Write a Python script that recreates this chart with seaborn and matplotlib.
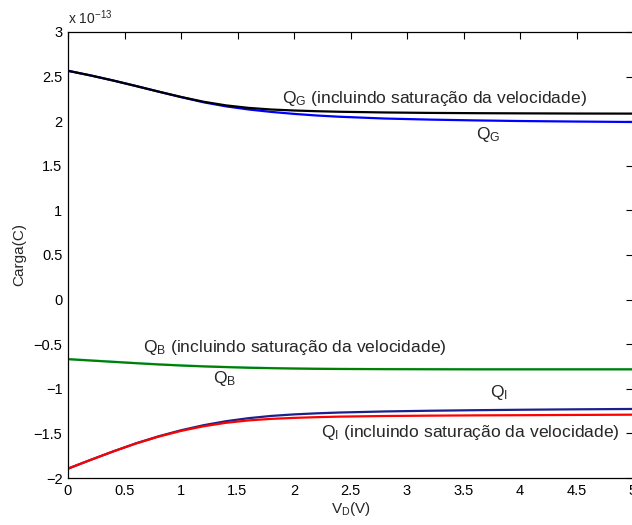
import numpy as np
import pandas as pd
import matplotlib
matplotlib.use("Agg")
import matplotlib.pyplot as plt
import seaborn as sns

# Data (charge in units of 1e-13 C)
vd = [0, 0.2, 0.4, 0.6, 0.8, 1.0, 1.2, 1.4, 1.6, 1.8, 2.0, 2.2, 2.4,
      2.8, 3.2, 3.6, 4.0, 4.5, 5.0]
qg_sat = [2.565, 2.513, 2.456, 2.395, 2.332, 2.272, 2.218, 2.177, 2.149, 2.131, 2.12, 2.112, 2.106,
          2.098, 2.093, 2.09, 2.088, 2.086, 2.085]
qg = [2.565, 2.513, 2.456, 2.395, 2.332, 2.27, 2.212, 2.166, 2.131, 2.104, 2.082, 2.064, 2.05,
      2.03, 2.018, 2.009, 2.002, 1.996, 1.991]
qb_sat = [-0.665, -0.68, -0.695, -0.71, -0.724, -0.736, -0.746, -0.754, -0.761, -0.766, -0.77,
          -0.773, -0.775, -0.777, -0.778, -0.779, -0.779, -0.779, -0.779]
qb = [-0.668, -0.683, -0.698, -0.713, -0.727, -0.739, -0.749, -0.757, -0.764, -0.769, -0.773,
      -0.776, -0.778, -0.78, -0.781, -0.782, -0.782, -0.782, -0.782]
qi = [-1.895, -1.797, -1.702, -1.612, -1.533, -1.465, -1.408, -1.363, -1.329, -1.304, -1.287,
      -1.275, -1.266, -1.254, -1.246, -1.24, -1.235, -1.23, -1.226]
qi_sat = [-1.895, -1.797, -1.702, -1.614, -1.537, -1.472, -1.42, -1.381, -1.354, -1.337, -1.326,
          -1.318, -1.312, -1.305, -1.301, -1.298, -1.296, -1.293, -1.29]

xticks = [0, 0.5, 1, 1.5, 2, 2.5, 3, 3.5, 4, 4.5, 5]
yticks = [-2, -1.5, -1, -0.5, 0, 0.5, 1, 1.5, 2, 2.5, 3]

sns.set_style("white")
plt.rcParams['font.family'] = ['Liberation Sans', 'DejaVu Sans']
plt.rcParams['mathtext.fontset'] = 'custom'
plt.rcParams['mathtext.rm'] = 'Liberation Sans'
plt.rcParams['mathtext.it'] = 'Liberation Sans:italic'
plt.rcParams['mathtext.bf'] = 'Liberation Sans:bold'

fig = plt.figure(figsize=(6.32, 5.25), dpi=100)
ax = fig.add_axes([68/632, 47/525, (633-68)/632, 446/525])

df = pd.DataFrame({"vd": vd, "qg_sat": qg_sat, "qg": qg, "qb_sat": qb_sat,
                   "qb": qb, "qi": qi, "qi_sat": qi_sat})
lw = 1.6
sns.lineplot(data=df, x="vd", y="qg", color=(0, 0, 1), lw=lw, ax=ax)
sns.lineplot(data=df, x="vd", y="qg_sat", color="black", lw=lw, ax=ax)
sns.lineplot(data=df, x="vd", y="qb_sat", color=(0.6, 0.9, 0.9), lw=lw, ax=ax)
sns.lineplot(data=df, x="vd", y="qb", color=(0, 0.5, 0), lw=lw, ax=ax)
sns.lineplot(data=df, x="vd", y="qi", color=(0.1, 0.13, 0.55), lw=lw, ax=ax)
sns.lineplot(data=df, x="vd", y="qi_sat", color=(1, 0, 0), lw=lw, ax=ax)

ax.set_xlim(0, 5)
ax.set_ylim(-2, 3)
ax.set_xticks(xticks)
ax.set_xticklabels([f"{t:g}" for t in xticks])
ax.set_yticks(yticks)
ax.set_yticklabels([f"{t:g}".replace("-", "\u2212") for t in yticks])
ax.tick_params(direction="in", top=True, right=True, length=5, width=0.8,
               labelsize=10.5, colors="black", pad=4)
for s in ax.spines.values():
    s.set_visible(True)
    s.set_color("black")
    s.set_linewidth(0.9)

ax.set_xlabel(r"V$_\mathrm{D}$(V)", fontsize=11, labelpad=2)
ax.set_ylabel("Carga(C)", fontsize=11, labelpad=5)
ax.annotate(r"x 10$^{\mathrm{-13}}$", xy=(0, 1), xycoords="axes fraction",
            xytext=(0, 5.8), textcoords="offset points",
            fontsize=10, ha="left", va="baseline")

fs = 12.6
ax.text(1.895, 2.20, r"Q$_\mathrm{G}$ (incluindo saturação da velocidade)", fontsize=fs, va="baseline")
ax.text(3.61, 1.797, r"Q$_\mathrm{G}$", fontsize=fs, va="baseline")
ax.text(0.662, -0.584, r"Q$_\mathrm{B}$ (incluindo saturação da velocidade)", fontsize=fs, va="baseline")
ax.text(1.28, -0.938, r"Q$_\mathrm{B}$", fontsize=fs, va="baseline")
ax.text(3.735, -1.089, r"Q$_\mathrm{I}$", fontsize=fs, va="baseline")
ax.text(2.24, -1.537, r"Q$_\mathrm{I}$ (incluindo saturação da velocidade)", fontsize=fs, va="baseline")

fig.savefig("out.png", dpi=100)
